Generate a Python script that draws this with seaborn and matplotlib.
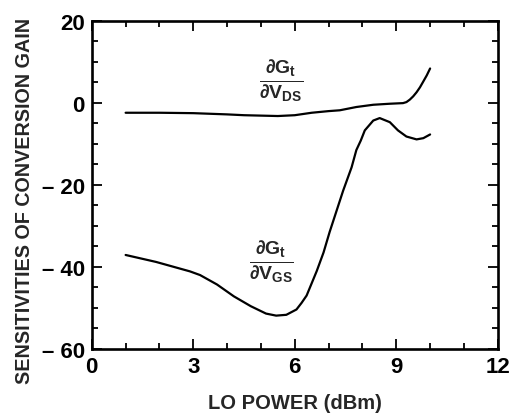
import numpy as np
import pandas as pd
import matplotlib
matplotlib.use("Agg")
import matplotlib.pyplot as plt
from matplotlib.ticker import MultipleLocator
import seaborn as sns

# values
lo_power_ds = [1.0, 2.0, 3.0, 4.0, 4.5, 5.0, 5.5, 6.0, 6.5, 7.0, 7.33, 7.82, 8.32,
               8.81, 9.2, 9.3, 9.4, 9.5, 9.6, 9.7, 9.79, 9.9, 10.0]
sens_vds = [-2.4, -2.4, -2.5, -2.8, -3.0, -3.1, -3.2, -3.0, -2.4, -2.0, -1.8,
            -1.0, -0.45, -0.2, -0.05, 0.2, 0.8, 1.6, 2.6, 3.8, 5.1, 6.7, 8.4]

lo_power_gs = [1.0, 1.9, 2.9, 3.2, 3.7, 4.2, 4.7, 5.15, 5.45, 5.75, 6.05, 6.2,
               6.35, 6.5, 6.65, 6.85, 7.03, 7.43, 7.68, 7.82, 7.95, 8.07, 8.32,
               8.51, 8.81, 9.05, 9.3, 9.6, 9.8, 10.0]
sens_vgs = [-37.1, -38.8, -41.1, -42.0, -44.3, -47.2, -49.6, -51.4, -51.9, -51.7,
            -50.4, -48.8, -47.0, -44.0, -41.0, -36.5, -31.5, -21.4, -15.7, -11.5,
            -9.2, -6.7, -4.3, -3.7, -4.7, -6.7, -8.2, -8.9, -8.6, -7.7]

x_ticks = [0, 3, 6, 9, 12]
y_ticks = [-60, -40, -20, 0, 20]
y_tick_labels = ["\u2013 60", "\u2013 40", "\u2013 20", "0", "20"]

sns.set_style("ticks")
plt.rcParams["font.family"] = ["Liberation Sans", "DejaVu Sans"]
plt.rcParams["font.weight"] = "bold"
plt.rcParams["mathtext.fontset"] = "custom"
plt.rcParams["mathtext.rm"] = "Liberation Sans:bold"
plt.rcParams["mathtext.it"] = "Liberation Sans:bold"
plt.rcParams["mathtext.bf"] = "Liberation Sans:bold"

df_ds = pd.DataFrame({"lo": lo_power_ds, "s": sens_vds})
df_gs = pd.DataFrame({"lo": lo_power_gs, "s": sens_vgs})

fig = plt.figure(figsize=(5.1, 4.14), dpi=100)
ax = fig.add_axes([0.180, 0.155, 0.796, 0.792])

sns.lineplot(data=df_ds, x="lo", y="s", ax=ax, color="black", linewidth=1.6)
sns.lineplot(data=df_gs, x="lo", y="s", ax=ax, color="black", linewidth=1.6)

ax.set_xlim(0, 12)
ax.set_ylim(-60, 20)
ax.set_xticks(x_ticks)
ax.set_yticks(y_ticks)
ax.set_yticklabels(y_tick_labels)
ax.xaxis.set_minor_locator(MultipleLocator(1))
ax.yaxis.set_minor_locator(MultipleLocator(5))
ax.tick_params(which="both", direction="in", top=True, right=True,
               labelsize=16, width=1.3, colors="black")
ax.tick_params(which="major", length=7, pad=5)
ax.tick_params(which="minor", length=4)
for lbl in ax.get_xticklabels() + ax.get_yticklabels():
    lbl.set_fontweight("bold")
for sp in ax.spines.values():
    sp.set_visible(True)
    sp.set_linewidth(1.9)
    sp.set_color("black")

ax.set_xlabel("LO POWER (dBm)", fontsize=14.5, fontweight="bold", labelpad=12)
ax.set_ylabel("")
fig.text(0.048, 0.072, "SENSITIVITIES OF CONVERSION GAIN", rotation=90,
         fontsize=14.2, fontweight="bold", ha="center", va="bottom")

ax.text(5.6, 5.6, r"$\frac{\partial\mathbf{G_t}}{\partial\mathbf{V_{DS}}}$",
        fontsize=20, ha="center", va="center")
ax.text(5.3, -38.4, r"$\frac{\partial\mathbf{G_t}}{\partial\mathbf{V_{GS}}}$",
        fontsize=20, ha="center", va="center")

fig.savefig("out.png", dpi=100)
